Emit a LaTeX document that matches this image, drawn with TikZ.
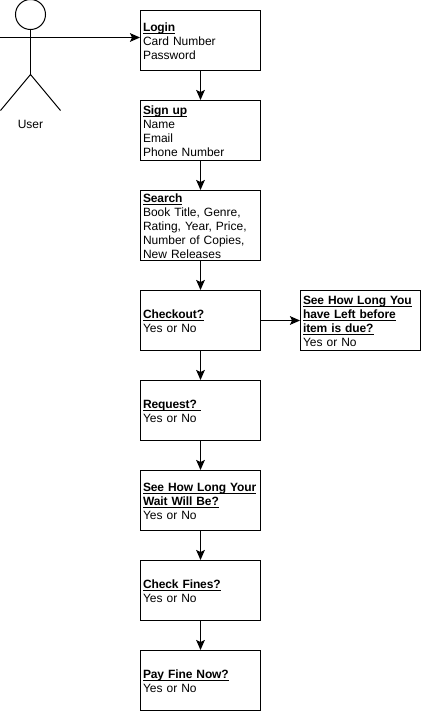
\documentclass[tikz,border=0pt]{standalone}
\usepackage{fontspec}
\setmainfont{Liberation Sans}
\usetikzlibrary{arrows.meta}
\newcommand\ulb[1]{\underline{\smash{\bfseries\addfontfeature{LetterSpace=-1}#1}}}
\newcommand\topline{\rule{0pt}{10pt}}
\newcommand\botline{\rule[-3.15pt]{0pt}{3.15pt}}
\tikzset{
  x=0.75pt,y=-0.75pt,
  boxnode/.style={draw=black,line width=0.75pt,rectangle,minimum width=90pt,inner xsep=1.9pt,inner ysep=0pt,
    text width=86.2pt,align=left,font=\fontsize{9pt}{10.5pt}\selectfont,anchor=center},
  flow/.style={draw=black,line width=0.75pt,-{Stealth[length=7.5pt,width=6.5pt,inset=1.5pt]}},
  limb/.style={draw=black,line width=0.75pt},
}
\begin{document}
\begin{tikzpicture}
\useasboundingbox (0,0) rectangle (421,711);
\fill[white] (0,0) rectangle (421,711);
\node[boxnode,minimum height=45pt] (login) at (200.5,40.5) {\topline\ulb{Login}\\Card Number\\Password\botline};
\node[boxnode,minimum height=45pt] (signup) at (200.5,130.5) {\topline\ulb{Sign up}\\Name\\Email\\Phone Number\botline};
\node[boxnode,minimum height=52.5pt,inner ysep=-1.4pt] (search) at (200.5,225.5) {\topline\ulb{Search}\\Book Title, Genre,\\Rating, Year, Price,\\Number of Copies,\\New Releases\botline};
\node[boxnode,minimum height=45pt] (checkout) at (200.5,320.5) {\topline\ulb{Checkout?}\\Yes or No\botline};
\node[boxnode,minimum height=45pt] (due) at (360.5,320.5) {\topline\ulb{See How Long You}\\\ulb{have Left before}\\\ulb{item is due?}\\Yes or No\botline};
\node[boxnode,minimum height=45pt] (request) at (200.5,410.5) {\topline\ulb{Request?\ }\\Yes or No\botline};
\node[boxnode,minimum height=45pt] (wait) at (200.5,500.5) {\topline\ulb{See How Long Your}\\\ulb{Wait Will Be?}\\Yes or No\botline};
\node[boxnode,minimum height=45pt] (fines) at (200.5,590.5) {\topline\ulb{Check Fines?}\\Yes or No\botline};
\node[boxnode,minimum height=45pt] (pay) at (200.5,680.5) {\topline\ulb{Pay Fine Now?}\\Yes or No\botline};
% actor
\node[draw=black,line width=0.75pt,circle,minimum size=22.5pt,inner sep=0pt] (head) at (30.5,14.5) {};
\coordinate (hip) at (30.5,74.5);
\coordinate (armL) at (0.5,37.5);
\coordinate (armR) at (60.5,37.5);
\coordinate (footL) at (0.5,110.5);
\coordinate (footR) at (60.5,110.5);
\coordinate (loginIn) at (login.west |- armR);
\draw[limb] (head.south) -- (hip);
\draw[limb] (armL) -- (armR);
\draw[limb] (footL) -- (hip) -- (footR);
\node[font=\fontsize{9pt}{10.5pt}\selectfont,inner sep=0pt] (user) at (30.5,124.5) {User};
% connectors
\draw[flow] (armR) -- (loginIn);
\draw[flow] (login) -- (signup);
\draw[flow] (signup) -- (search);
\draw[flow] (search) -- (checkout);
\draw[flow] (checkout) -- (due);
\draw[flow] (checkout) -- (request);
\draw[flow] (request) -- (wait);
\draw[flow] (wait) -- (fines);
\draw[flow] (fines) -- (pay);
\end{tikzpicture}
\end{document}
